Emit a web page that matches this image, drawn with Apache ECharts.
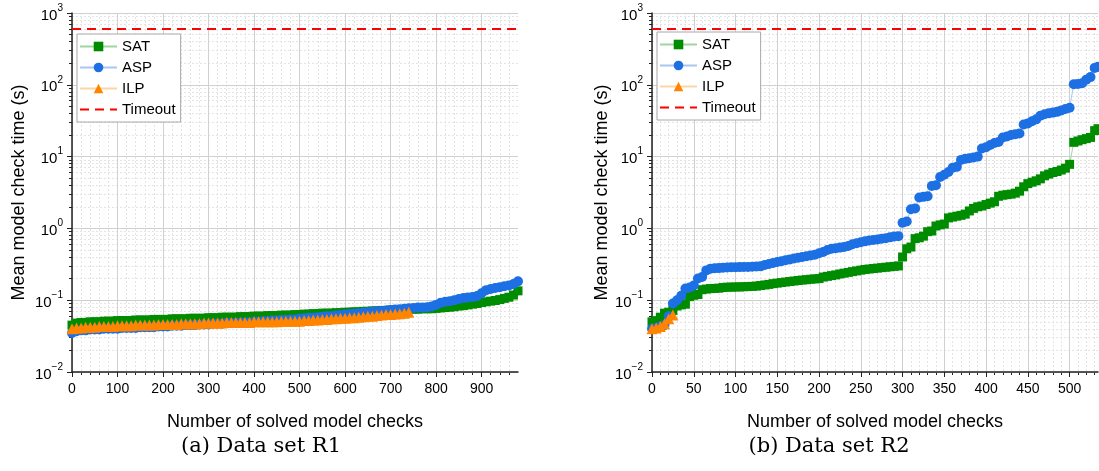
<!DOCTYPE html>
<html>
<head>
<meta charset="utf-8">
<title>Mean model check time</title>
<script src="https://cdn.jsdelivr.net/npm/echarts@6/dist/echarts.min.js"></script>
<style>
  html, body { margin: 0; padding: 0; background: #fff; }
  #chart { width: 1099px; height: 471px; }
</style>
</head>
<body>
<div id="chart"></div>
<script>
// ---- Data set R1: mean check time (s) against number of solved model checks ----
const R1_SOLVED = [
  0, 10, 20, 30, 40, 50, 60, 70, 80, 90,
  100, 110, 120, 130, 140, 150, 160, 170, 180, 190,
  200, 210, 220, 230, 240, 250, 260, 270, 280, 290,
  300, 310, 320, 330, 340, 350, 360, 370, 380, 390,
  400, 410, 420, 430, 440, 450, 460, 470, 480, 490,
  500, 510, 520, 530, 540, 550, 560, 570, 580, 590,
  600, 610, 620, 630, 640, 650, 660, 670, 680, 690,
  700, 710, 720, 730, 740, 750, 760, 770, 780, 790,
  800, 810, 820, 830, 840, 850, 860, 870, 880, 890,
  900, 910, 920, 930, 940, 950, 960, 970, 980
];
const R1_SAT = [
  0.045, 0.048, 0.049, 0.049, 0.050, 0.050, 0.050, 0.051, 0.051, 0.051,
  0.052, 0.052, 0.052, 0.052, 0.053, 0.053, 0.053, 0.053, 0.054, 0.054,
  0.054, 0.054, 0.055, 0.055, 0.055, 0.055, 0.056, 0.056, 0.056, 0.056,
  0.057, 0.057, 0.057, 0.058, 0.058, 0.058, 0.058, 0.059, 0.059, 0.059,
  0.060, 0.060, 0.060, 0.061, 0.061, 0.061, 0.062, 0.062, 0.062, 0.063,
  0.063, 0.064, 0.064, 0.065, 0.065, 0.066, 0.066, 0.066, 0.067, 0.067,
  0.068, 0.068, 0.069, 0.069, 0.070, 0.070, 0.071, 0.071, 0.072, 0.072,
  0.073, 0.073, 0.074, 0.074, 0.075, 0.075, 0.075, 0.076, 0.076, 0.076,
  0.077, 0.078, 0.079, 0.080, 0.081, 0.083, 0.084, 0.086, 0.088, 0.090,
  0.093, 0.095, 0.097, 0.099, 0.102, 0.106, 0.110, 0.118, 0.135
];
const R1_ASP = [
  0.035, 0.037, 0.038, 0.038, 0.039, 0.039, 0.039, 0.040, 0.040, 0.040,
  0.040, 0.041, 0.041, 0.041, 0.041, 0.042, 0.042, 0.042, 0.042, 0.043,
  0.043, 0.043, 0.044, 0.044, 0.044, 0.045, 0.045, 0.045, 0.046, 0.046,
  0.046, 0.047, 0.047, 0.047, 0.048, 0.048, 0.048, 0.049, 0.049, 0.049,
  0.050, 0.050, 0.051, 0.051, 0.052, 0.052, 0.053, 0.053, 0.054, 0.054,
  0.055, 0.056, 0.057, 0.057, 0.058, 0.059, 0.060, 0.060, 0.061, 0.062,
  0.063, 0.064, 0.065, 0.066, 0.067, 0.068, 0.069, 0.070, 0.071, 0.072,
  0.073, 0.074, 0.075, 0.076, 0.077, 0.078, 0.079, 0.079, 0.080, 0.082,
  0.086, 0.092, 0.095, 0.097, 0.100, 0.104, 0.107, 0.109, 0.111, 0.114,
  0.125, 0.138, 0.143, 0.148, 0.152, 0.156, 0.160, 0.168, 0.183
];
const R1_ILP = [
  0.040, 0.041, 0.041, 0.042, 0.042, 0.042, 0.043, 0.043, 0.043, 0.043,
  0.044, 0.044, 0.044, 0.044, 0.045, 0.045, 0.045, 0.045, 0.045, 0.046,
  0.046, 0.046, 0.046, 0.046, 0.047, 0.047, 0.047, 0.047, 0.047, 0.048,
  0.048, 0.048, 0.048, 0.048, 0.049, 0.049, 0.049, 0.049, 0.049, 0.049,
  0.050, 0.050, 0.050, 0.050, 0.050, 0.050, 0.051, 0.051, 0.051, 0.051,
  0.051, 0.052, 0.052, 0.053, 0.053, 0.054, 0.054, 0.055, 0.055, 0.056,
  0.056, 0.057, 0.057, 0.058, 0.059, 0.060, 0.060, 0.061, 0.062, 0.063,
  0.063, 0.064, 0.065, 0.066, 0.068
];

// ---- Data set R2 ----
const R2_SOLVED = [
  0, 5, 10, 15, 20, 25, 30, 35, 40, 45,
  50, 55, 60, 65, 70, 75, 80, 85, 90, 95,
  100, 105, 110, 115, 120, 125, 130, 135, 140, 145,
  150, 155, 160, 165, 170, 175, 180, 185, 190, 195,
  200, 205, 210, 215, 220, 225, 230, 235, 240, 245,
  250, 255, 260, 265, 270, 275, 280, 285, 290, 295,
  300, 305, 310, 315, 320, 325, 330, 335, 340, 345,
  350, 355, 360, 365, 370, 375, 380, 385, 390, 395,
  400, 405, 410, 415, 420, 425, 430, 435, 440, 445,
  450, 455, 460, 465, 470, 475, 480, 485, 490, 495,
  500, 505, 510, 515, 520, 525, 530, 534
];
const R2_SAT = [
  0.050, 0.052, 0.058, 0.066, 0.068, 0.072, 0.083, 0.086, 0.088, 0.112,
  0.117, 0.120, 0.140, 0.143, 0.145, 0.146, 0.147, 0.150, 0.152, 0.152,
  0.153, 0.153, 0.154, 0.155, 0.156, 0.157, 0.160, 0.163, 0.166, 0.170,
  0.173, 0.176, 0.179, 0.182, 0.185, 0.188, 0.191, 0.193, 0.196, 0.198,
  0.200, 0.210, 0.215, 0.220, 0.225, 0.232, 0.238, 0.244, 0.250, 0.256,
  0.262, 0.268, 0.272, 0.276, 0.280, 0.284, 0.288, 0.292, 0.296, 0.300,
  0.40, 0.52, 0.55, 0.72, 0.74, 0.78, 0.90, 0.92, 1.08, 1.12,
  1.15, 1.40, 1.44, 1.48, 1.52, 1.58, 1.75, 1.90, 2.00, 2.05,
  2.15, 2.25, 2.35, 2.80, 2.90, 2.95, 3.00, 3.10, 3.30, 3.80,
  4.20, 4.40, 4.60, 4.90, 5.40, 5.70, 6.00, 6.20, 6.50, 6.90,
  7.80, 15.8, 16.5, 17.2, 17.8, 18.5, 23.0, 24.5
];
const R2_ASP = [
  0.040, 0.041, 0.043, 0.045, 0.060, 0.090, 0.100, 0.115, 0.145, 0.150,
  0.160, 0.200, 0.210, 0.260, 0.275, 0.278, 0.280, 0.283, 0.285, 0.287,
  0.288, 0.289, 0.290, 0.291, 0.292, 0.294, 0.296, 0.310, 0.320, 0.330,
  0.340, 0.350, 0.360, 0.370, 0.380, 0.390, 0.400, 0.410, 0.420, 0.430,
  0.450, 0.470, 0.500, 0.520, 0.530, 0.540, 0.550, 0.570, 0.600, 0.620,
  0.640, 0.660, 0.680, 0.690, 0.700, 0.720, 0.730, 0.750, 0.770, 0.780,
  1.20, 1.25, 1.85, 1.90, 2.70, 2.75, 2.80, 3.90, 4.00, 5.20,
  5.60, 6.10, 7.00, 7.20, 9.00, 9.30, 9.50, 9.70, 10.0, 13.0,
  13.5, 14.5, 15.5, 16.0, 18.5, 19.0, 20.0, 20.5, 21.0, 28.0,
  29.0, 31.0, 33.0, 37.0, 39.0, 40.0, 41.0, 42.0, 44.0, 46.0,
  48.0, 102, 103, 105, 118, 128, 172, 178
];
const R2_ILP = [0.040, 0.041, 0.043, 0.047, 0.055, 0.062];

// ---- Axes, reference line and captions ----
const TIMEOUT_S = 600;
const R1_X_MAX = 980;
const R2_X_MAX = 534;
const R1_X_TICKS = [0, 100, 200, 300, 400, 500, 600, 700, 800, 900];
const R2_X_TICKS = [0, 50, 100, 150, 200, 250, 300, 350, 400, 450, 500];
const R1_X_MINOR_STEP = 20;
const R2_X_MINOR_STEP = 10;
const Y_TICKS = [0.01, 0.1, 1, 10, 100, 1000];
const Y_EXPONENTS = ['\u22122', '\u22121', '0', '1', '2', '3'];
const SERIES_NAMES = ['SAT', 'ASP', 'ILP', 'Timeout'];
const CAPTIONS = ['(a) Data set R1', '(b) Data set R2'];
const X_TITLE = 'Number of solved model checks';
const Y_TITLE = 'Mean model check time (s)';

const FONT = '"Liberation Sans", Arial, sans-serif';
const SERIF = '"DejaVu Serif", "Liberation Serif", serif';
const STYLE = {
  SAT: { mark: '#008c00', line: '#9fd69f', symbol: 'rect', size: 9 },
  ASP: { mark: '#1d6fe4', line: '#a9c6f2', symbol: 'circle', size: 10 },
  ILP: { mark: '#ff8500', line: '#ffd3a3', symbol: 'triangle', size: 11 }
};

// minor tick positions between the major ones
function minorSteps(max, step, majors) {
  const out = [];
  for (let v = step; v < max; v += step) {
    if (majors.indexOf(v) < 0) out.push(v);
  }
  return out;
}
const Y_MINOR = [];
Y_TICKS.slice(0, -1).forEach(function (d) {
  for (let m = 2; m <= 9; m++) Y_MINOR.push(+(d * m).toPrecision(3));
});

const AXIS_COLOR = '#222';
const MAJOR_GRID = '#d0d0d0';
const MINOR_GRID = '#e4e4e4';

function xAxes(gridIndex, max, ticks, minorStep) {
  const minor = minorSteps(max, minorStep, ticks);
  return [
    {
      type: 'value', gridIndex: gridIndex, min: 0, max: max, position: 'bottom',
      name: X_TITLE, nameLocation: 'middle', nameGap: 41,
      nameTextStyle: { fontFamily: FONT, fontSize: 18, color: '#000' },
      axisLine: { show: true, onZero: false, lineStyle: { color: AXIS_COLOR, width: 1.5 } },
      axisTick: { show: true, inside: false, length: 5, customValues: ticks,
                  lineStyle: { color: AXIS_COLOR, width: 1 } },
      axisLabel: { show: true, customValues: ticks, margin: 10,
                   fontFamily: FONT, fontSize: 14, color: '#000' },
      splitLine: { show: true, lineStyle: { color: MAJOR_GRID, width: 1 } },
      z: 3
    },
    {
      type: 'value', gridIndex: gridIndex, min: 0, max: max, position: 'bottom',
      axisLine: { show: false, onZero: false },
      axisLabel: { show: false },
      axisTick: { show: true, inside: false, length: 3, customValues: minor,
                  lineStyle: { color: AXIS_COLOR, width: 1 } },
      splitLine: { show: true, lineStyle: { color: MINOR_GRID, width: 1, type: [2, 2] } },
      z: 2
    }
  ];
}

function yAxes(gridIndex, nameGap) {
  return [
    {
      type: 'log', logBase: 10, gridIndex: gridIndex, min: 0.01, max: 1000, position: 'left',
      name: Y_TITLE, nameLocation: 'middle', nameGap: nameGap,
      nameTextStyle: { fontFamily: FONT, fontSize: 18, color: '#000' },
      axisLine: { show: true, onZero: false, lineStyle: { color: AXIS_COLOR, width: 1.5 } },
      axisTick: { show: true, inside: false, length: 5, customValues: Y_TICKS,
                  lineStyle: { color: AXIS_COLOR, width: 1 } },
      axisLabel: {
        show: true, customValues: Y_TICKS, margin: 9,
        formatter: function (v) {
          const i = Y_TICKS.findIndex(function (t) {
            return Math.abs(Math.log10(t) - Math.log10(v)) < 1e-6;
          });
          return '{b|10}{s|' + (i >= 0 ? Y_EXPONENTS[i] : '') + '}';
        },
        rich: {
          b: { fontFamily: FONT, fontSize: 15, color: '#000', lineHeight: 20, verticalAlign: 'bottom' },
          s: { fontFamily: FONT, fontSize: 10, color: '#000', lineHeight: 11, verticalAlign: 'top' }
        }
      },
      splitLine: { show: true, lineStyle: { color: MAJOR_GRID, width: 1 } },
      z: 3
    },
    {
      type: 'log', logBase: 10, gridIndex: gridIndex, min: 0.01, max: 1000, position: 'left',
      axisLine: { show: false, onZero: false },
      axisLabel: { show: false },
      axisTick: { show: true, inside: false, length: 3, customValues: Y_MINOR,
                  lineStyle: { color: AXIS_COLOR, width: 1 } },
      splitLine: { show: true, lineStyle: { color: MINOR_GRID, width: 1, type: [2, 2] } },
      z: 2
    }
  ];
}

function pairs(xs, ys) {
  return ys.map(function (y, i) { return [xs[i], y]; });
}

// dense: the many overlapping markers of R1 merge into one solid band
function curve(name, gridIndex, xs, ys, dense) {
  const s = STYLE[name];
  return {
    type: 'line', name: name,
    xAxisIndex: gridIndex * 2, yAxisIndex: gridIndex * 2,
    data: pairs(xs, ys),
    symbol: s.symbol, symbolSize: s.size,
    showSymbol: true, showAllSymbol: true,
    lineStyle: dense ? { color: s.mark, width: s.size - 2 } : { color: s.line, width: 1 },
    itemStyle: { color: s.mark },
    emphasis: { disabled: true },
    silent: true,
    animation: false
  };
}

function timeoutLine(gridIndex, max) {
  return {
    type: 'line', name: 'Timeout',
    xAxisIndex: gridIndex * 2, yAxisIndex: gridIndex * 2,
    data: [[0, TIMEOUT_S], [max, TIMEOUT_S]],
    symbol: 'none',
    lineStyle: { color: '#ff0000', width: 2, type: [9, 6] },
    itemStyle: { color: '#ff0000' },
    emphasis: { disabled: true },
    silent: true,
    animation: false,
    z: 4
  };
}

function legend(left, top) {
  return {
    orient: 'vertical', left: left, top: top,
    itemWidth: 37, itemHeight: 12, itemGap: 6,
    padding: [5, 5, 5, 2],
    backgroundColor: '#fff', borderColor: '#a8a8a8', borderWidth: 1, borderRadius: 0,
    textStyle: { fontFamily: FONT, fontSize: 15, color: '#000' },
    selectedMode: false,
    data: SERIES_NAMES.map(function (n) {
      return n === 'Timeout' ? { name: n, itemStyle: { opacity: 0 } } : { name: n };
    })
  };
}

const chart = echarts.init(document.getElementById('chart'), null, { renderer: 'canvas' });
chart.setOption({
  animation: false,
  backgroundColor: '#fff',
  grid: [
    { left: 72, top: 13, width: 446, height: 359, outerBoundsMode: 'none' },
    { left: 652, top: 13, width: 446, height: 359, outerBoundsMode: 'none' }
  ],
  xAxis: xAxes(0, R1_X_MAX, R1_X_TICKS, R1_X_MINOR_STEP)
    .concat(xAxes(1, R2_X_MAX, R2_X_TICKS, R2_X_MINOR_STEP)),
  yAxis: yAxes(0, 44).concat(yAxes(1, 41)),
  legend: [legend(77, 34), legend(657, 32)],
  // R2 series come first so the legend keys take their thin connector lines
  series: [
    curve('SAT', 1, R2_SOLVED, R2_SAT, false),
    curve('ASP', 1, R2_SOLVED, R2_ASP, false),
    curve('ILP', 1, R2_SOLVED, R2_ILP, false),
    timeoutLine(1, R2_X_MAX),
    curve('SAT', 0, R1_SOLVED, R1_SAT, true),
    curve('ASP', 0, R1_SOLVED, R1_ASP, true),
    curve('ILP', 0, R1_SOLVED, R1_ILP, true),
    timeoutLine(0, R1_X_MAX)
  ],
  graphic: [
    { type: 'text', x: 261, y: 447, silent: true,
      style: { text: CAPTIONS[0], font: '21px ' + SERIF, fill: '#000', align: 'center', verticalAlign: 'middle' } },
    { type: 'text', x: 829, y: 447, silent: true,
      style: { text: CAPTIONS[1], font: '21px ' + SERIF, fill: '#000', align: 'center', verticalAlign: 'middle' } }
  ]
});
</script>
</body>
</html>
